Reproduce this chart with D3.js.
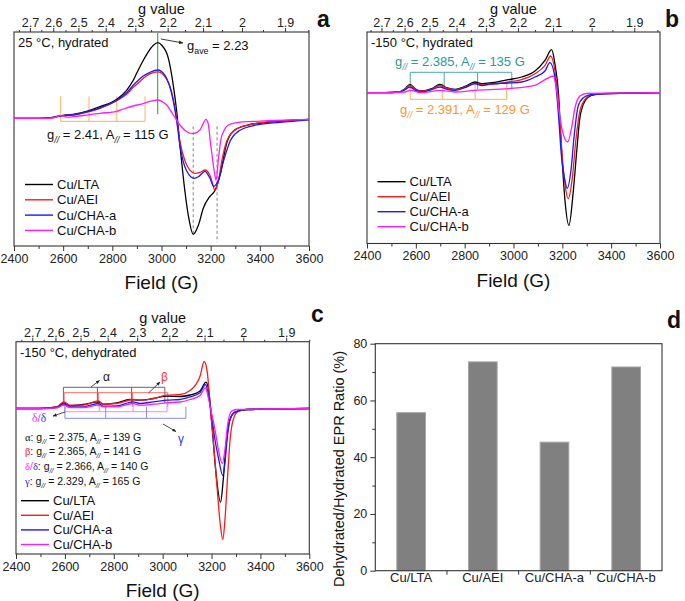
<!DOCTYPE html>
<html><head><meta charset="utf-8">
<script src="https://cdn.jsdelivr.net/npm/d3@7"></script>
<style>
body{margin:0;background:#fff}
svg{display:block}
text{font-family:"Liberation Sans",Arial,sans-serif}
</style>
</head><body>
<svg id="fig" width="685" height="601"></svg>
<script>
// ---------------- data ----------------
const fieldTicks = [2400, 2600, 2800, 3000, 3200, 3400, 3600];
const fieldMinor = [2500, 2700, 2900, 3100, 3300, 3500];
const gTicks = [2.7, 2.6, 2.5, 2.4, 2.3, 2.2, 2.1, 2.0, 1.9];
const gLabels = ["2.7", "2.6", "2.5", "2.4", "2.3", "2.2", "2.1", "2", "1.9"];
const gMinor = [2.75, 2.65, 2.55, 2.45, 2.35, 2.25, 2.15, 2.05, 1.95, 1.85];
const seriesNames = ["Cu/LTA", "Cu/AEI", "Cu/CHA-a", "Cu/CHA-b"];
const seriesColors = ["#000000", "#ff1a1a", "#1a1aff", "#ff1aff"];

// panel a: 25 °C hydrated  [field (G), intensity (a.u.)]
const aLTA = [[2400,0],[2500,0],[2560,1],[2587,2.5],[2640,4],[2702,7.5],[2750,11.6],[2818,19],[2858,28],[2885,38],[2899,45],[2926,58],[2940,64],[2967,73],[2985,75.6],[3001,73],[3028,60],[3048,33],[3062,6.6],[3075,-27],[3089,-60],[3109,-97],[3129,-116],[3150,-107],[3170,-90],[3197,-78],[3218,-72],[3238,-57],[3265,-25],[3292,-13],[3347,-7],[3428,-4],[3500,-2.5],[3600,-1]];
const aAEI = [[2400,0],[2500,0],[2560,1],[2587,2.3],[2640,3.3],[2702,6.5],[2750,10],[2818,17.6],[2858,24],[2885,31],[2913,37],[2926,40],[2953,44.5],[2985,46.5],[3014,41.6],[3041,26.6],[3062,0],[3075,-23],[3096,-43],[3116,-52],[3136,-55],[3157,-54],[3177,-51.7],[3197,-57],[3211,-68],[3216,-71.7],[3231,-63],[3245,-43],[3265,-23],[3292,-13],[3347,-7],[3455,-3],[3600,-1]];
const aCHAa = [[2400,0],[2500,0],[2560,1],[2587,2.4],[2640,3.4],[2702,7],[2750,10.5],[2818,18],[2858,25.5],[2885,33],[2926,42.3],[2953,46],[2985,48.3],[3014,43],[3041,25],[3062,-3],[3075,-27],[3103,-53],[3133,-60],[3150,-58.5],[3177,-53],[3197,-60],[3212,-68],[3231,-62],[3252,-43],[3279,-23],[3319,-12],[3387,-6.6],[3482,-4],[3600,-1.5]];
const aCHAb = [[2400,0],[2540,0],[2575,1.5],[2587,3],[2600,2.5],[2615,1.2],[2641,1.6],[2702,3.5],[2750,5],[2818,7],[2845,9.3],[2885,12.3],[2913,14],[2967,17.6],[2985,18.3],[3001,17],[3021,13.3],[3048,3.3],[3075,-6.7],[3103,-13.4],[3129,-15.4],[3157,-11.6],[3181,-1],[3190,-5.6],[3200,-26],[3214,-52],[3222,-62],[3231,-42],[3241,-22],[3255,-12],[3270,-7],[3300,-4.5],[3400,-2.8],[3600,-1]];

// panel b: -150 °C hydrated
const bLTA = [[2400,0],[2474,0],[2528,0.7],[2556,4],[2576,8.3],[2597,4],[2624,1.7],[2665,4],[2699,8.3],[2726,5],[2760,3.3],[2801,6.3],[2842,10.7],[2870,9],[2911,10],[2979,13],[3033,15.7],[3088,21.7],[3129,32.3],[3156,43],[3170,28.3],[3184,0],[3197,-58.3],[3211,-108.3],[3227,-132.7],[3245,-98.3],[3259,-58.3],[3272,-25],[3293,-8.3],[3320,-2.7],[3382,-0.7],[3600,0]];
const bAEI = [[2400,0],[2474,0],[2528,0.7],[2556,3.5],[2576,7.3],[2597,3.5],[2624,1.5],[2665,3.5],[2699,7.3],[2726,4.5],[2760,3],[2801,5.5],[2842,9],[2870,8],[2911,8.3],[2979,10.7],[3033,13],[3088,19],[3129,27.3],[3152,36.7],[3170,21.7],[3184,-8.3],[3197,-55],[3211,-91.7],[3224,-106],[3241,-85],[3255,-48.3],[3272,-18.3],[3293,-6.7],[3327,-1.7],[3600,0]];
const bCHAa = [[2400,0],[2474,0],[2528,0.5],[2556,3],[2576,5.7],[2597,2.5],[2624,0.7],[2665,3],[2699,5.7],[2726,3.5],[2760,2.3],[2801,5],[2842,9],[2870,7],[2911,9],[2979,9.7],[3033,10.7],[3088,15.7],[3129,21.7],[3149,30],[3170,15],[3184,-21.7],[3197,-65],[3211,-88.3],[3220,-95.7],[3235,-78.3],[3249,-41.7],[3265,-13.3],[3286,-5],[3320,-1.7],[3600,0]];
const bCHAb = [[2400,0],[2474,0],[2556,0.7],[2576,2.3],[2624,0],[2699,2.3],[2760,0.7],[2842,2.3],[2979,4],[3088,7.3],[3108,10],[3136,14],[3163,16.7],[3177,1.7],[3190,-25],[3204,-41.7],[3222,-49.3],[3238,-35],[3252,-15],[3272,-3.3],[3300,-0.7],[3600,0]];

// panel c: -150 °C dehydrated
const cLTA = [[2400,0],[2498,0],[2567,1.5],[2596,5.7],[2621,2.7],[2675,4],[2737,6.7],[2757,4.3],[2812,5.7],[2866,9],[2907,8.3],[2962,10],[3017,12.3],[3071,12],[3112,13.5],[3153,17.5],[3177,26.3],[3188,19],[3201,-14],[3212,-47.7],[3221,-71],[3237,-93.7],[3248,-71],[3259,-37.7],[3273,-12.7],[3296,-3.7],[3344,-1],[3600,0]];
const cAEI = [[2400,0],[2498,0],[2567,1.7],[2596,6.7],[2621,3.3],[2675,3.3],[2737,7.7],[2757,4.3],[2812,5],[2880,9],[2921,8.3],[2962,10],[3017,13.3],[3071,14],[3112,18],[3153,32.3],[3170,47],[3183,35.7],[3194,2.3],[3207,-31],[3221,-74],[3235,-114],[3246,-131],[3255,-111],[3265,-71],[3276,-31],[3289,-11],[3310,-2.7],[3344,-1],[3600,0]];
const cCHAa = [[2400,0],[2498,0],[2567,1],[2596,4.3],[2621,1.7],[2675,1.7],[2737,5],[2757,2.3],[2812,2.7],[2880,6.7],[2907,5],[2962,6.7],[3017,8.3],[3071,9],[3112,11.7],[3153,15.7],[3175,24],[3187,14],[3201,-7.7],[3214,-31],[3228,-49],[3246,-67],[3255,-54],[3265,-27.7],[3276,-11],[3296,-3.7],[3344,-1],[3600,0]];
const cCHAb = [[2400,0],[2498,0],[2567,0.7],[2596,3.3],[2621,1],[2675,1],[2737,3.3],[2757,1.7],[2812,1.7],[2880,5],[2907,3.3],[2962,4.3],[3017,5.7],[3071,6.5],[3112,9],[3153,13],[3175,20.7],[3187,10.7],[3201,-6],[3214,-21],[3228,-41],[3244,-55],[3255,-41],[3265,-17.7],[3282,-2.7],[3303,-1],[3600,0]];

// hyperfine stick positions (G)
const aParallel = [2590, 2705, 2818, 2933];
const bTeal = [2577, 2716, 2853, 2993];
const bOrange = [2577, 2708, 2843, 2972];
const cAlpha = [2594, 2733, 2873, 3009];
const cBeta = [2597, 2737, 2877, 3021];
const cDelta = [2600, 2741, 2879, 3018];
const cGamma = [2600, 2767, 2934, 3095];

// panel d
const ratioCategories = ["Cu/LTA", "Cu/AEI", "Cu/CHA-a", "Cu/CHA-b"];
const ratioValues = [55.7, 73.6, 45.3, 71.8];
const ratioTicks = [0, 20, 40, 60, 80];
const ratioMinor = [10, 30, 50, 70];

// ---------------- drawing ----------------
const svg = d3.select("#fig");
const defs = svg.append("defs");
function marker(id, color) {
  defs.append("marker").attr("id", id).attr("viewBox", "0 0 10 10").attr("refX", 9).attr("refY", 5)
    .attr("markerWidth", 5).attr("markerHeight", 5).attr("orient", "auto")
    .append("path").attr("d", "M0,1 L10,5 L0,9 Z").attr("fill", color);
}
marker("arK", "#222");

function rich(parent, x, y, parts, fs, fill) {
  const t = parent.append("text").attr("x", x).attr("y", y).attr("font-size", fs).attr("fill", fill || "#111");
  let off = 0;
  parts.forEach(([s, kind, col, fam]) => {
    const target = kind === "s" ? fs * 0.3 : 0;
    const ts = t.append("tspan").text(s).attr("dy", target - off);
    off = target;
    if (kind === "s") {
      ts.attr("font-size", fs * 0.68);
      if (s === "//") ts.attr("font-style", "italic");
    }
    if (col) ts.attr("fill", col);
    if (fam) ts.attr("font-family", fam);
  });
  return t;
}

function styleAxis(ax, fs) {
  ax.select(".domain").remove();
  ax.selectAll(".tick line").attr("stroke", "#333");
  ax.selectAll(".tick text").attr("font-size", fs).attr("fill", "#222")
    .attr("font-family", "'Liberation Sans',Arial,sans-serif");
}

function spectrum(p) {
  const x = d3.scaleLinear().domain([2400, 3600]).range([p.x0, p.x1]);
  const y = d3.scaleLinear().domain(p.yDomain).range([p.y1, p.y0]);
  const g = svg.append("g");
  const bx = g.append("g").attr("transform", `translate(0,${p.y1})`)
    .call(d3.axisBottom(x).tickValues(fieldTicks).tickFormat(d3.format("d")).tickSize(5).tickPadding(3));
  styleAxis(bx, 12.5);
  const bxm = g.append("g").attr("transform", `translate(0,${p.y1})`)
    .call(d3.axisBottom(x).tickValues(fieldMinor).tickFormat("").tickSize(3));
  styleAxis(bxm, 12);
  const labelMap = new Map(gTicks.map((v, i) => [p.K / v, gLabels[i]]));
  const tx = g.append("g").attr("transform", `translate(0,${p.y0})`)
    .call(d3.axisTop(x).tickValues([...labelMap.keys()]).tickFormat(d => labelMap.get(d)).tickSize(4).tickPadding(1));
  styleAxis(tx, 12.5);
  const txm = g.append("g").attr("transform", `translate(0,${p.y0})`)
    .call(d3.axisTop(x).tickValues(gMinor.map(v => p.K / v).filter(f => f >= 2400 && f <= 3600)).tickFormat("").tickSize(2));
  styleAxis(txm, 12);
  g.append("rect").attr("x", p.x0).attr("y", p.y0).attr("width", p.x1 - p.x0).attr("height", p.y1 - p.y0)
    .attr("fill", "none").attr("stroke", "#333").attr("stroke-width", 1.1);
  g.append("text").attr("x", (p.x0 + p.x1) / 2).attr("y", p.y0 - 18.5).attr("text-anchor", "middle")
    .attr("font-size", 14.5).attr("fill", "#111").text("g value");
  g.append("text").attr("x", (p.x0 + p.x1) / 2).attr("y", p.y1 + 43).attr("text-anchor", "middle")
    .attr("font-size", 19).attr("fill", "#111").text("Field (G)");
  g.append("text").attr("x", p.x0 + 4).attr("y", p.y0 + 15).attr("font-size", 13).attr("fill", "#111").text(p.title);
  g.append("text").attr("x", p.letterX).attr("y", p.letterY).attr("font-size", 23).attr("font-weight", "bold")
    .attr("fill", "#111").text(p.letter);
  seriesNames.forEach((n, i) => {
    const yy = p.legY + i * p.legDy;
    g.append("line").attr("x1", p.legX).attr("x2", p.legX + 28).attr("y1", yy).attr("y2", yy)
      .attr("stroke", seriesColors[i]).attr("stroke-width", 1.4);
    g.append("text").attr("x", p.legX + 32).attr("y", yy).attr("dy", "0.35em").attr("font-size", 13)
      .attr("fill", "#111").text(n);
  });
  const line = d3.line().x(d => x(d[0])).y(d => y(d[1])).curve(d3.curveMonotoneX);
  return { g, x, y, line };
}

function sticks(g, x, y, fields, yH, yEnd, color, width) {
  g.append("line").attr("x1", x(fields[0])).attr("x2", x(fields[fields.length - 1]))
    .attr("y1", y(yH)).attr("y2", y(yH)).attr("stroke", color).attr("stroke-width", width || 1);
  fields.forEach(f => g.append("line").attr("x1", x(f)).attr("x2", x(f)).attr("y1", y(yH)).attr("y2", y(yEnd))
    .attr("stroke", color).attr("stroke-width", width || 1));
}

function curves(P, list) {
  list.forEach((d, i) => P.g.append("path").datum(d).attr("d", P.line).attr("fill", "none")
    .attr("stroke", seriesColors[i]).attr("stroke-width", 1.3).attr("stroke-linejoin", "round"));
}

// ---- panel a ----
const A = spectrum({ x0: 14, x1: 309, y0: 32, y1: 246, yDomain: [-127.7, 86.3], K: 6655,
  title: "25 °C, hydrated", letter: "a", letterX: 317, letterY: 27,
  legX: 25, legY: 184.5, legDy: 15.3 });
sticks(A.g, A.x, A.y, aParallel, -3, 22, "#ffb066", 1);
A.g.append("line").attr("x1", A.x(6655 / 2.23)).attr("x2", A.x(6655 / 2.23)).attr("y1", 33).attr("y2", A.y(4))
  .attr("stroke", "#33bb33").attr("stroke-width", 1.2);
[[3129, -8, -118], [3226, -8, -124]].forEach(([f, a, b]) =>
  A.g.append("line").attr("x1", A.x(f)).attr("x2", A.x(f)).attr("y1", A.y(a)).attr("y2", A.y(b))
    .attr("stroke", "#777").attr("stroke-width", 0.9).attr("stroke-dasharray", "3,2.5"));
curves(A, [aLTA, aAEI, aCHAa, aCHAb]);
A.g.append("line").attr("x1", 161).attr("y1", 39).attr("x2", 183).attr("y2", 43)
  .attr("stroke", "#222").attr("stroke-width", 0.9).attr("marker-end", "url(#arK)");
rich(A.g, 187, 50, [["g"], ["ave", "s"], [" = 2.23"]], 13);
rich(A.g, 47, 139, [["g"], ["//", "s"], [" = 2.41, A"], ["//", "s"], [" = 115 G"]], 13);

// ---- panel b ----
const B = spectrum({ x0: 367, x1: 660, y0: 32, y1: 243.5, yDomain: [-150.8, 60.7], K: 6640,
  title: "-150 °C, hydrated", letter: "b", letterX: 665, letterY: 27,
  legX: 377.5, legY: 181.7, legDy: 15 });
sticks(B.g, B.x, B.y, bTeal, 20.4, 3.4, "#48aaaa", 1);
sticks(B.g, B.x, B.y, bOrange, -6.6, 9.7, "#ffad5c", 1);
curves(B, [bLTA, bAEI, bCHAa, bCHAb]);
rich(B.g, 395, 66, [["g"], ["//", "s"], [" = 2.385, A"], ["//", "s"], [" = 135 G"]], 13, "#2e9999");
rich(B.g, 400, 114, [["g"], ["//", "s"], [" = 2.391, A"], ["//", "s"], [" = 129 G"]], 13, "#ff9530");

// ---- panel c ----
const C = spectrum({ x0: 16, x1: 309.3, y0: 341.7, y1: 554, yDomain: [-145.5, 66.8], K: 6660,
  title: "-150 °C, dehydrated", letter: "c", letterX: 311, letterY: 322,
  legX: 21, legY: 500.7, legDy: 14.6 });
sticks(C.g, C.x, C.y, cAlpha, 21.2, 5.5, "#555", 0.9);
sticks(C.g, C.x, C.y, cBeta, 15.8, 1.8, "#ff5a5a", 0.9);
sticks(C.g, C.x, C.y, cDelta, -3.2, 6.8, "#ff70ff", 0.9);
sticks(C.g, C.x, C.y, cGamma, -9.8, 1.8, "#7a7aff", 0.9);
curves(C, [cLTA, cAEI, cCHAa, cCHAb]);
const serif = "'Liberation Serif','Times New Roman',serif";
C.g.append("line").attr("x1", 91).attr("y1", 387).attr("x2", 99.5).attr("y2", 380.5)
  .attr("stroke", "#222").attr("stroke-width", 0.8).attr("marker-end", "url(#arK)");
C.g.append("text").attr("x", 103).attr("y", 381).attr("font-size", 12).attr("font-family", serif).attr("fill", "#222").text("α");
C.g.append("line").attr("x1", 148.5).attr("y1", 393).attr("x2", 160).attr("y2", 382)
  .attr("stroke", "#222").attr("stroke-width", 0.8).attr("marker-end", "url(#arK)");
C.g.append("text").attr("x", 161).attr("y", 381).attr("font-size", 12).attr("font-family", serif).attr("fill", "#ff3030").text("β");
C.g.append("line").attr("x1", 163).attr("y1", 424).attr("x2", 176).attr("y2", 431.5)
  .attr("stroke", "#222").attr("stroke-width", 0.8).attr("marker-end", "url(#arK)");
C.g.append("text").attr("x", 178).attr("y", 443).attr("font-size", 12).attr("font-family", serif).attr("fill", "#3030ff").text("γ");
C.g.append("line").attr("x1", 65).attr("y1", 412).attr("x2", 53).attr("y2", 416)
  .attr("stroke", "#222").attr("stroke-width", 0.8).attr("marker-end", "url(#arK)");
rich(C.g, 32, 422, [["δ", "n", "#ff30ff", serif], ["/", "n", "#ff30ff"], ["δ", "n", "#3030ff", serif]], 11.5);
const fsC = 10.5;
rich(C.g, 25, 440.5, [["α", "n", "#111", serif], [": g"], ["//", "s"], [" = 2.375, A"], ["//", "s"], [" = 139 G"]], fsC);
rich(C.g, 25, 455, [["β", "n", "#ff2020", serif], [": g"], ["//", "s"], [" = 2.365, A"], ["//", "s"], [" = 141 G"]], fsC);
rich(C.g, 25, 469.5, [["δ", "n", "#ff30ff", serif], ["/", "n", "#ff30ff"], ["δ", "n", "#3030ff", serif], [": g"], ["//", "s"], [" = 2.366, A"], ["//", "s"], [" = 140 G"]], fsC);
rich(C.g, 25, 484.5, [["γ", "n", "#2020ff", serif], [": g"], ["//", "s"], [" = 2.329, A"], ["//", "s"], [" = 165 G"]], fsC);

// ---- panel d ----
(function () {
  const x0 = 375.3, x1 = 662, y0 = 343.7, y1 = 570.7;
  const x = d3.scaleBand().domain(ratioCategories).range([x0, x1]).paddingInner(0.6).paddingOuter(0.3);
  const y = d3.scaleLinear().domain([0, 80]).range([y1, y0]);
  const g = svg.append("g");
  g.selectAll("rect.bar").data(ratioValues).join("rect").attr("class", "bar")
    .attr("x", (d, i) => x(ratioCategories[i])).attr("width", x.bandwidth())
    .attr("y", d => y(d)).attr("height", d => y(0) - y(d))
    .attr("fill", "#808080").attr("stroke", "#a6a6a6").attr("stroke-width", 1);
  const ly = g.append("g").attr("transform", `translate(${x0},0)`)
    .call(d3.axisLeft(y).tickValues(ratioTicks).tickSize(5).tickPadding(3));
  styleAxis(ly, 12.5);
  const lym = g.append("g").attr("transform", `translate(${x0},0)`)
    .call(d3.axisLeft(y).tickValues(ratioMinor).tickFormat("").tickSize(3));
  styleAxis(lym, 12);
  const bxa = g.append("g").attr("transform", `translate(0,${y1})`)
    .call(d3.axisBottom(x).tickSize(0).tickPadding(2.5));
  styleAxis(bxa, 13);
  ratioCategories.slice(1).forEach(c => {
    const bx = x(c) - x.step() * x.paddingInner() / 2;
    g.append("line").attr("x1", bx).attr("x2", bx).attr("y1", y1).attr("y2", y1 + 4).attr("stroke", "#333");
  });
  g.append("rect").attr("x", x0).attr("y", y0).attr("width", x1 - x0).attr("height", y1 - y0)
    .attr("fill", "none").attr("stroke", "#333").attr("stroke-width", 1.1);
  g.append("text").attr("transform", `translate(344,469) rotate(-90)`).attr("text-anchor", "middle")
    .attr("font-size", 14.5).attr("fill", "#111").text("Dehydrated/Hydrated EPR Ratio (%)");
  g.append("text").attr("x", 667).attr("y", 328).attr("font-size", 23).attr("font-weight", "bold")
    .attr("fill", "#111").text("d");
})();
</script>
</body></html>
